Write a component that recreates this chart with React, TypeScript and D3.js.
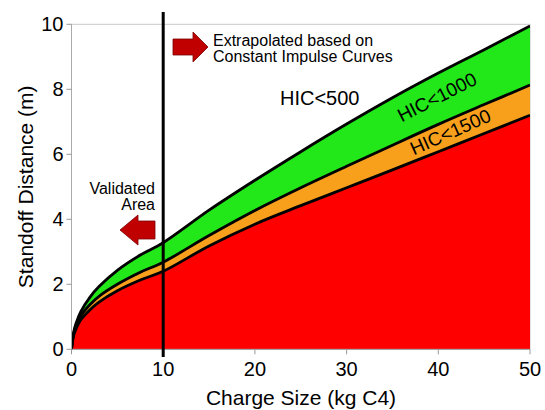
import React from "react";
import * as d3 from "d3";

const chargeSize = [0, 0.25, 0.5, 1, 2, 3, 5, 7.5, 10, 15, 20, 25, 30, 35, 40, 45, 50];
const hic500 = [0, 0.55, 0.8, 1.15, 1.6, 1.93, 2.43, 2.9, 3.28, 4.28, 5.2, 6.08, 6.93, 7.74, 8.5, 9.22, 9.95];
const hic1000 = [0, 0.5, 0.72, 1.02, 1.37, 1.63, 2.0, 2.37, 2.68, 3.5, 4.27, 4.97, 5.63, 6.28, 6.92, 7.53, 8.13];
const hic1500 = [0, 0.44, 0.63, 0.9, 1.21, 1.45, 1.8, 2.13, 2.4, 3.18, 3.85, 4.42, 4.97, 5.52, 6.08, 6.64, 7.2];
const xTicks = [0, 10, 20, 30, 40, 50];
const yTicks = [0, 2, 4, 6, 8, 10];
const validatedLimit = 10;

const W = 545, H = 410;
const left = 71.5, right = 530, top = 24.3, bottom = 349.3;

export default function App() {
  const x = d3.scaleLinear().domain([0, 50]).range([left, right]);
  const y = d3.scaleLinear().domain([0, 10]).range([bottom, top]);
  const idx = chargeSize.map((_, i) => i);
  const curve = d3.curveCatmullRom.alpha(0.5);

  const area = (lo: number[] | null, hi: number[]) =>
    d3.area<number>()
      .x((i) => x(chargeSize[i]))
      .y0((i) => (lo ? y(lo[i]) : y(0)))
      .y1((i) => y(hi[i]))
      .curve(curve)(idx) as string;
  const line = (s: number[]) =>
    d3.line<number>()
      .x((i) => x(chargeSize[i]))
      .y((i) => y(s[i]))
      .curve(curve)(idx) as string;

  const font = "Arial, 'Liberation Sans', sans-serif";
  const vx = x(validatedLimit);

  return (
    <svg width={W} height={H} style={{ position: "absolute", left: 0, top: 0, background: "#fff" }} fontFamily={font}>
      <defs>
        <clipPath id="plot">
          <rect x={left} y={top - 2} width={right - left} height={bottom - top + 2} />
        </clipPath>
      </defs>
      <rect x={left} y={top} width={right - left} height={bottom - top} fill="none" stroke="#c8c8c8" strokeWidth={1} />
      <g clipPath="url(#plot)">
        <path d={area(null, hic1500)} fill="#ff0000" />
        <path d={area(hic1500, hic1000)} fill="#f8a01c" />
        <path d={area(hic1000, hic500)} fill="#22e81a" />
        <path d={line(hic1500)} fill="none" stroke="#000" strokeWidth={2.8} />
        <path d={line(hic1000)} fill="none" stroke="#000" strokeWidth={2.8} />
        <path d={line(hic500)} fill="none" stroke="#000" strokeWidth={2.8} />
      </g>
      {/* axes */}
      <line x1={left} x2={left} y1={top} y2={bottom} stroke="#aaa" strokeWidth={1} />
      <line x1={left} x2={right} y1={bottom} y2={bottom} stroke="#999" strokeWidth={1} />
      {yTicks.map((t) => (
        <g key={"y" + t}>
          <line x1={left - 5} x2={left} y1={y(t)} y2={y(t)} stroke="#999" />
          <text x={left - 8} y={y(t) + 7} fontSize={20} textAnchor="end" fill="#000">{t}</text>
        </g>
      ))}
      {xTicks.map((t) => (
        <g key={"x" + t}>
          <line x1={x(t)} x2={x(t)} y1={bottom} y2={bottom + 5} stroke="#999" />
          <text x={x(t)} y={bottom + 27} fontSize={20} textAnchor="middle" fill="#000">{t}</text>
        </g>
      ))}
      <text x={301} y={405} fontSize={21} textAnchor="middle">Charge Size (kg C4)</text>
      <text transform={`translate(33,${(top + bottom) / 2}) rotate(-90)`} fontSize={21} textAnchor="middle">Standoff Distance (m)</text>

      {/* validated boundary */}
      <line x1={vx} x2={vx} y1={12} y2={357} stroke="#000" strokeWidth={3} />

      {/* right arrow */}
      <path d="M173,39 L193,39 L193,32 L208,47 L193,62 L193,55 L173,55 Z" fill="#c00000" stroke="#7a0000" strokeWidth={0.8} />
      <text x={213} y={46} fontSize={16}>Extrapolated based on</text>
      <text x={213} y={62} fontSize={16}>Constant Impulse Curves</text>

      {/* left arrow */}
      <path d="M155,221 L138,221 L138,215 L120,230 L138,245 L138,239 L155,239 Z" fill="#c00000" stroke="#7a0000" strokeWidth={0.8} />
      <text x={155} y={194} fontSize={16} textAnchor="end">Validated</text>
      <text x={155} y={210} fontSize={16} textAnchor="end">Area</text>

      <text x={280} y={105} fontSize={20}>HIC&lt;500</text>
      <text transform="translate(440,103) rotate(-27)" fontSize={19} textAnchor="middle">HIC&lt;1000</text>
      <text transform="translate(453,138) rotate(-24)" fontSize={19} textAnchor="middle">HIC&lt;1500</text>
    </svg>
  );
}
